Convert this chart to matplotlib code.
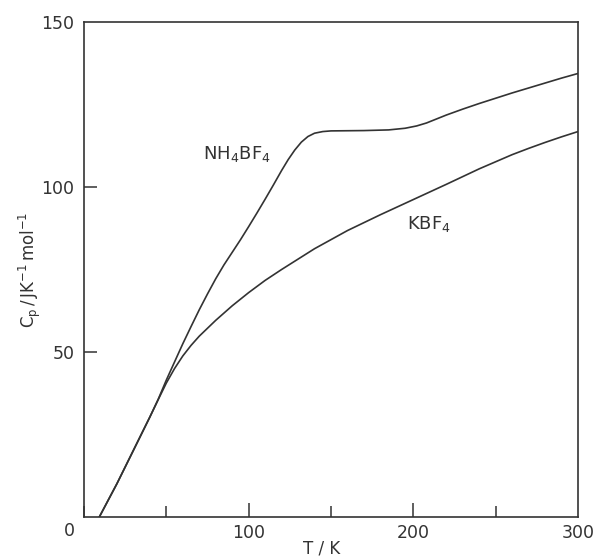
import numpy as np
import matplotlib
matplotlib.use("Agg")
import matplotlib.pyplot as plt
from matplotlib.ticker import MultipleLocator

# heat capacity readings, T / K and Cp / J K^-1 mol^-1
t_nh4 = [9.3, 20, 30, 40, 45, 50, 55, 60, 65, 70, 75, 80, 85, 90, 95, 100, 105, 110,
         115, 120, 124, 128, 132, 136, 140, 145, 150, 170, 185, 195, 202, 208, 214,
         220, 230, 240, 250, 260, 270, 280, 290, 300]
cp_nh4 = [0, 10.1, 20.2, 30.3, 35.6, 41.5, 47.0, 52.5, 57.7, 62.8, 67.6, 72.2, 76.4, 80.2,
          84.0, 88.0, 92.1, 96.3, 100.6, 105.0, 108.3, 111.2, 113.6, 115.3, 116.3, 116.8,
          117.0, 117.1, 117.3, 117.8, 118.5, 119.4, 120.6, 121.8, 123.6, 125.3, 126.9,
          128.5, 130.0, 131.5, 133.0, 134.4]

t_kbf4 = [9.3, 20, 30, 40, 45, 50, 55, 60, 65, 70, 80, 90, 100, 110, 120, 140, 160,
          180, 200, 220, 240, 260, 270, 280, 290, 300]
cp_kbf4 = [0, 10.1, 20.2, 30.3, 35.5, 40.6, 45.0, 48.8, 52.0, 54.8, 59.6, 64.0, 68.0,
           71.7, 75.0, 81.3, 86.8, 91.6, 96.2, 100.8, 105.5, 109.8, 111.7, 113.5, 115.2, 116.8]

x_ticklabels = ["100", "200", "300"]
y_ticklabels = ["50", "100", "150"]

ink = "#333333"
plt.rcParams["font.family"] = ["DejaVu Sans"]
plt.rcParams["mathtext.fontset"] = "dejavusans"

fig = plt.figure(figsize=(5.99, 5.59), dpi=100)
ax = fig.add_axes([84 / 599, 1 - 517 / 559, 494 / 599, 495 / 559])

ax.plot(t_nh4, cp_nh4, color=ink, lw=1.2, solid_capstyle="round", solid_joinstyle="round")
ax.plot(t_kbf4, cp_kbf4, color=ink, lw=1.2, solid_capstyle="round", solid_joinstyle="round")

ax.set_xlim(0, 300)
ax.set_ylim(0, 150)

ax.set_xticks([100, 200, 300])
ax.set_xticklabels(x_ticklabels)
ax.xaxis.set_minor_locator(MultipleLocator(50))
ax.set_yticks([50, 100, 150])
ax.set_yticklabels(y_ticklabels)

ax.tick_params(axis="x", which="major", direction="in", length=10, width=1.1,
               color=ink, labelcolor=ink, labelsize=12.5, pad=5)
ax.tick_params(axis="x", which="minor", direction="in", length=8, width=1.1, color=ink)
ax.tick_params(axis="y", which="major", direction="in", length=9, width=1.1,
               color=ink, labelcolor=ink, labelsize=12.5, pad=7)
# no tick mark drawn at the top of y / right end of x
ax.yaxis.get_major_ticks()[-1].tick1line.set_visible(False)
ax.xaxis.get_major_ticks()[-1].tick1line.set_visible(False)

for s in ax.spines.values():
    s.set_color(ink)
    s.set_linewidth(1.2)

ax.text(-5.5, -1.5, "0", ha="right", va="top", fontsize=12.5, color=ink)

ax.set_xlabel("T / K", fontsize=12, color=ink)
ax.xaxis.set_label_coords(0.482, -0.064)
ax.xaxis.label.set_va("center")
ax.set_ylabel(r"$\mathrm{C_p\,/\,JK^{-1}\,mol^{-1}}$", fontsize=12, color=ink)
ax.yaxis.set_label_coords(-0.109, 0.5)
ax.yaxis.label.set_va("center")

ax.text(72.4, 109.9, r"$\mathrm{NH_4BF_4}$", fontsize=13, color=ink, ha="left", va="center")
ax.text(196, 88.7, r"$\mathrm{KBF_4}$", fontsize=13, color=ink, ha="left", va="center")

fig.savefig("out.png", dpi=100, facecolor="white")
